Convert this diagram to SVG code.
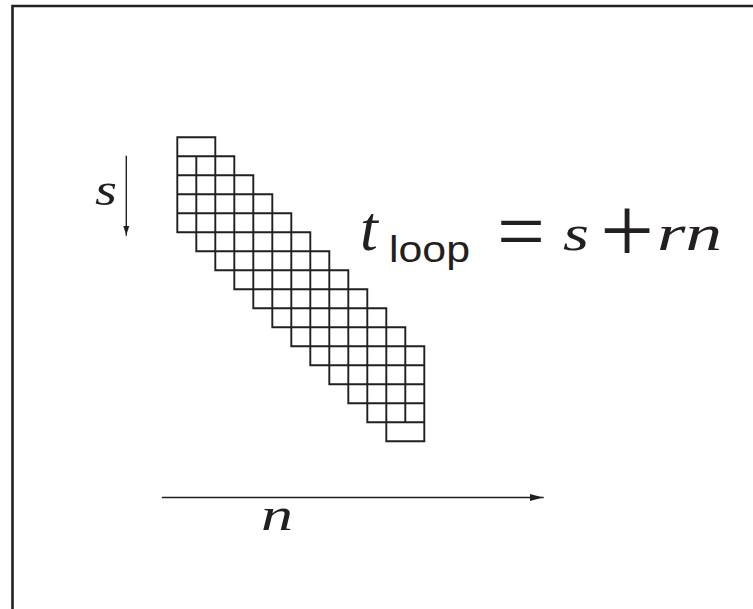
<svg xmlns="http://www.w3.org/2000/svg" width="753" height="609" viewBox="0 0 753 609">
<style>
.ln{fill:none;stroke:#231f20;stroke-linecap:square}
.mi{font-family:"Liberation Serif","Times New Roman",serif;font-style:italic;fill:#231f20}
.rm{font-family:"Liberation Serif","Times New Roman",serif;fill:#231f20}
.sf{font-family:"Liberation Sans",Arial,sans-serif;fill:#231f20}
</style>
<defs>
<marker id="ahS" markerUnits="userSpaceOnUse" markerWidth="9" markerHeight="7" refX="9" refY="3" orient="auto" viewBox="0 0 9 6">
<path d="M0,0 L9,3 L0,6 z" fill="#231f20"/>
</marker>
<marker id="ahN" markerUnits="userSpaceOnUse" markerWidth="13" markerHeight="8" refX="13" refY="3.5" orient="auto" viewBox="0 0 13 7">
<path d="M0,0 L13,3.5 L0,7 z" fill="#231f20"/>
</marker>
</defs>
<rect width="753" height="609" fill="#fff"/>
<path class="ln" d="M12.5,609 V6 H753" stroke-width="2.6" stroke-linecap="butt"/>
<g id="grid" transform="translate(177.3,137.3)">
<path class="ln" stroke-width="1.9" d="M0,0 H38 M0,19 H57 M0,38 H76 M0,57 H95 M0,76 H114 M0,95 H133 M19,114 H152 M38,133 H171 M57,152 H190 M76,171 H209 M95,190 H228 M114,209 H247 M133,228 H247 M152,247 H247 M171,266 H247 M190,285 H247 M209,304 H247 M0,0 V95 M19,19 V114 M38,0 V133 M57,19 V152 M76,38 V171 M95,57 V190 M114,76 V209 M133,95 V228 M152,114 V247 M171,133 V266 M190,152 V285 M209,171 V304 M228,190 V285 M247,209 V304"/>
</g>
<g id="connectors">
<line class="ln" x1="126.3" y1="156.5" x2="126.3" y2="235" stroke-width="1.4" stroke-linecap="butt" marker-end="url(#ahS)"/>
<line class="ln" x1="162.5" y1="497.5" x2="543" y2="497.5" stroke-width="1.4" stroke-linecap="butt" marker-end="url(#ahN)"/>
</g>
<g id="label-s"><text class="mi" x="95" y="205" font-size="46" textLength="22" lengthAdjust="spacingAndGlyphs">s</text></g>
<g id="label-n"><text class="mi" x="261" y="530" font-size="46" textLength="32" lengthAdjust="spacingAndGlyphs">n</text></g>
<g id="formula">
<text class="mi" x="360" y="250" font-size="64">t</text>
<text class="sf" x="389" y="262" font-size="36" textLength="81" lengthAdjust="spacingAndGlyphs">loop</text>
<text class="rm" x="497" y="260" font-size="84" textLength="48" lengthAdjust="spacingAndGlyphs">=</text>
<text class="mi" x="563" y="250" font-size="50" textLength="26" lengthAdjust="spacingAndGlyphs">s</text>
<text class="rm" x="600" y="262" font-size="96">+</text>
<text class="mi" x="657" y="250" font-size="50" textLength="65" lengthAdjust="spacingAndGlyphs">rn</text>
</g>
</svg>
